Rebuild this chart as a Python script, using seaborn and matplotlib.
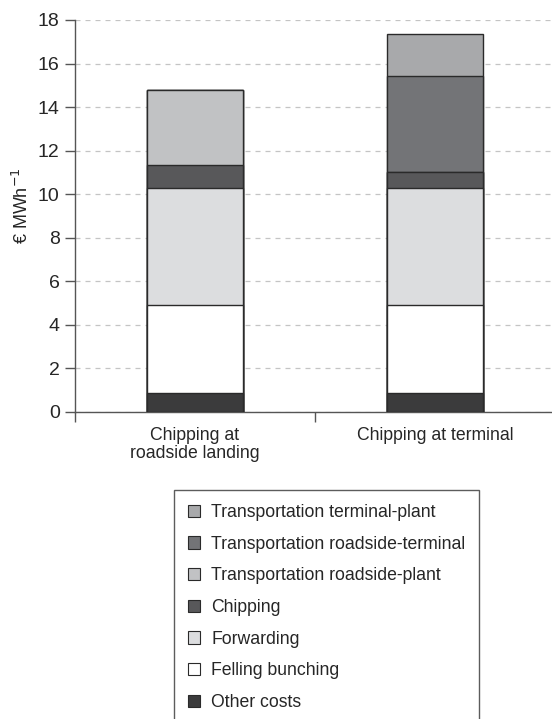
import matplotlib
matplotlib.use("Agg")
import matplotlib.pyplot as plt
import seaborn as sns
import numpy as np
import pandas as pd
from matplotlib.patches import Patch

categories = ["Chipping at\nroadside landing", "Chipping at terminal"]
# components, bottom to top
components = ["Other costs", "Felling bunching", "Forwarding", "Chipping",
              "Transportation roadside-plant", "Transportation roadside-terminal",
              "Transportation terminal-plant"]
other_costs = [0.86, 0.86]
felling_bunching = [4.04, 4.04]
forwarding = [5.38, 5.38]
chipping = [1.04, 0.75]
transport_roadside_plant = [3.48, 0.0]
transport_roadside_terminal = [0.0, 4.40]
transport_terminal_plant = [0.0, 1.94]
colors = ["#3b3b3c", "#ffffff", "#dcdddf", "#58585a", "#c1c2c4", "#737477", "#a8a9ab"]

values = [other_costs, felling_bunching, forwarding, chipping,
          transport_roadside_plant, transport_roadside_terminal, transport_terminal_plant]
yticks = [0, 2, 4, 6, 8, 10, 12, 14, 16, 18]

sns.set_style("white")
plt.rcParams['font.family'] = ['Liberation Sans', 'DejaVu Sans']

fig = plt.figure(figsize=(5.52, 7.19), dpi=100)
ax = fig.add_axes([75/552, 1-411.7/719, 480/552, (411.7-20)/719])

cum = np.cumsum(np.array(values), axis=0)
for i in range(len(components)-1, -1, -1):
    df = pd.DataFrame({"cat": categories, "val": cum[i]})
    sns.barplot(data=df, x="cat", y="val", color=colors[i], saturation=1,
                width=0.4, edgecolor="#2a2a2a", linewidth=1.0, errorbar=None,
                ax=ax, zorder=3)

ax.set_xlim(-0.5, 1.5)
ax.set_ylim(0, 18)
ax.set_yticks(yticks)
ax.set_yticklabels([str(t) for t in yticks], fontsize=14)
ax.yaxis.grid(True, linestyle=(0, (4, 4)), color="#c4c4c4", linewidth=0.9, zorder=0)
ax.set_axisbelow(True)
for s in ["top", "right"]:
    ax.spines[s].set_visible(False)
for s in ["left", "bottom"]:
    ax.spines[s].set_color("#555555")
    ax.spines[s].set_linewidth(1.0)
ax.tick_params(axis="y", length=7, color="#555555", width=1.0, pad=4, left=True)
ax.tick_params(axis="x", which="major", length=0, pad=11, labelsize=12.7)
for lab in ax.get_xticklabels():
    lab.set_linespacing(1.1)
ax.set_xticks([-0.5, 0.5, 1.5], minor=True)
ax.tick_params(axis="x", which="minor", length=7, color="#555555", width=1.0, bottom=True)
ax.set_xlabel("")
ax.set_ylabel("€ MWh$^{-1}$", fontsize=13)
ax.yaxis.set_label_coords(-0.09, 0.525)

handles = [Patch(facecolor=colors[i], edgecolor="#2a2a2a", linewidth=0.8, label=components[i])
           for i in range(len(components)-1, -1, -1)]
leg = fig.legend(handles=handles, loc="upper left", bbox_to_anchor=(174/552, 1-490/719),
                 frameon=True, fontsize=12.7, handlelength=0.7, handleheight=0.7,
                 handletextpad=0.6, labelspacing=0.83, borderpad=0.8, fancybox=False,
                 borderaxespad=0)
leg.get_frame().set_edgecolor("#333333")
leg.get_frame().set_linewidth(1.0)

fig.savefig("out.png", dpi=100)
